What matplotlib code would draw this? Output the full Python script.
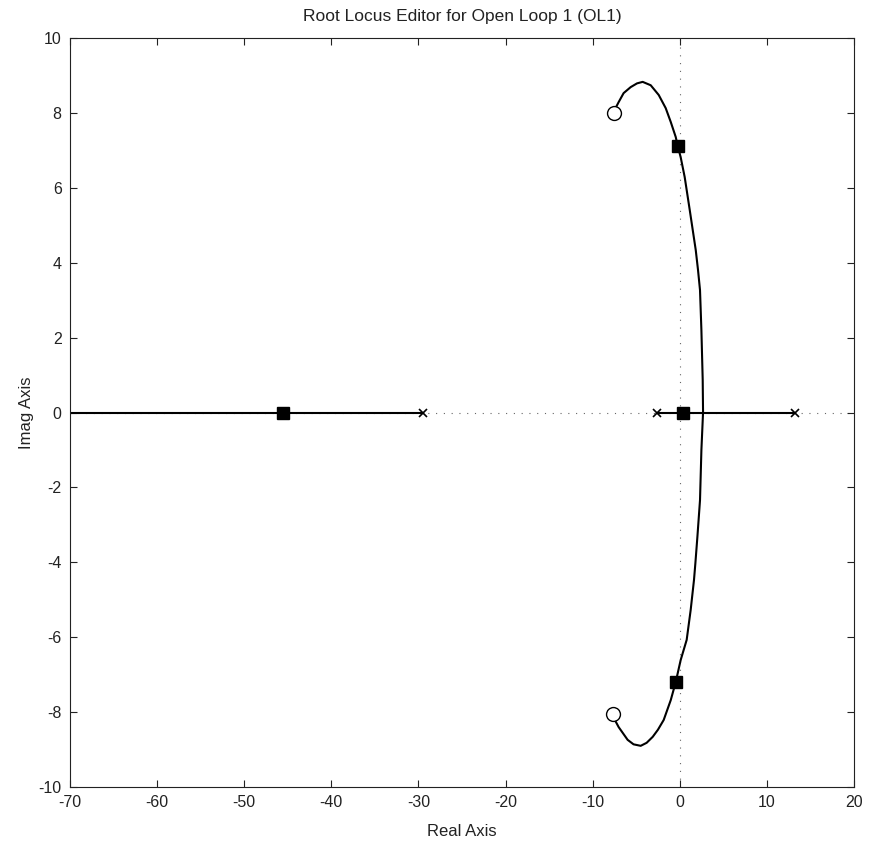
import numpy as np
import matplotlib
matplotlib.use('Agg')
import matplotlib.pyplot as plt

plt.rcParams['font.family'] = ['Liberation Sans', 'DejaVu Sans']
plt.rcParams['axes.unicode_minus'] = False

# open-loop poles / zeros and current closed-loop poles
poles_re = [-29.5, -2.64, 13.2]
zeros_re = [-7.55, -7.7]
zeros_im = [7.99, -8.05]
cl_re = [-45.6, 0.34, -0.23, -0.46]
cl_im = [0.0, 0.0, 7.12, -7.2]

# complex branch: from upper zero, over the top, down through the
# real-axis break point and round to the lower zero
arc_re = [-7.55, -7.3, -7.01, -6.44, -5.63, -4.9, -4.25, -3.33, -2.41,
          -1.61, -1.03, -0.46, -0.23, 0.11, 0.57, 1.15, 1.84, 2.10, 2.33,
          2.49, 2.64, 2.68, 2.49, 2.33, 2.03, 1.80, 1.64, 1.26, 0.80, 0.11,
          -0.46, -1.03, -1.84, -2.5, -3.10, -3.8, -4.48, -5.3, -5.98, -7.01,
          -7.4, -7.7]
arc_im = [7.99, 8.16, 8.29, 8.53, 8.69, 8.79, 8.83, 8.74, 8.48,
          8.13, 7.76, 7.36, 7.12, 6.82, 6.29, 5.41, 4.34, 3.81, 3.27,
          2.20, 0.87, 0.0, -1.0, -2.34, -3.32, -4.02, -4.47, -5.27, -6.07, -6.61,
          -7.2, -7.68, -8.21, -8.47, -8.66, -8.82, -8.90, -8.86, -8.74, -8.40,
          -8.23, -8.05]

# real-axis branches
left_re = [-70, poles_re[0]]
mid_re = [poles_re[1], poles_re[2]]

fig = plt.figure(figsize=(8.70, 8.42), dpi=100)
ax = fig.add_axes([0.0805, 0.0653, 0.901, 0.8895])

ax.axhline(0, color='#666666', linestyle=(0, (1, 6)), linewidth=0.8, zorder=1)
ax.axvline(0, color='#666666', linestyle=(0, (1, 6)), linewidth=0.8, zorder=1)

ax.plot(left_re, [0, 0], color='black', linewidth=1.5, zorder=2)
ax.plot(mid_re, [0, 0], color='black', linewidth=1.5, zorder=2)
ax.plot(arc_re, arc_im, color='black', linewidth=1.5, zorder=2,
        solid_joinstyle='round')

ax.plot(poles_re, [0, 0, 0], 'x', color='black', markersize=5.5,
        markeredgewidth=1.2, zorder=3)
ax.plot(zeros_re, zeros_im, 'o', markerfacecolor='white',
        markeredgecolor='black', markersize=10, markeredgewidth=1.0, zorder=3)
ax.plot(cl_re, cl_im, 's', color='black', markersize=8, zorder=4)

ax.set_xlim(-70, 20)
ax.set_ylim(-10, 10)
ax.set_xticks(np.arange(-70, 21, 10))
ax.set_yticks(np.arange(-10, 11, 2))
ax.tick_params(direction='in', top=True, right=True, labelsize=11.5,
               length=5, pad=6, colors='#222222')
for s in ax.spines.values():
    s.set_linewidth(0.8)
    s.set_color('#222222')

ax.set_title('Root Locus Editor for Open Loop 1 (OL1)', fontsize=12.5,
             pad=12, color='#222222')
ax.set_xlabel('Real Axis', fontsize=12, labelpad=10, color='#222222')
ax.set_ylabel('Imag Axis', fontsize=12, labelpad=3, color='#222222')

fig.savefig('out.png', dpi=100)
